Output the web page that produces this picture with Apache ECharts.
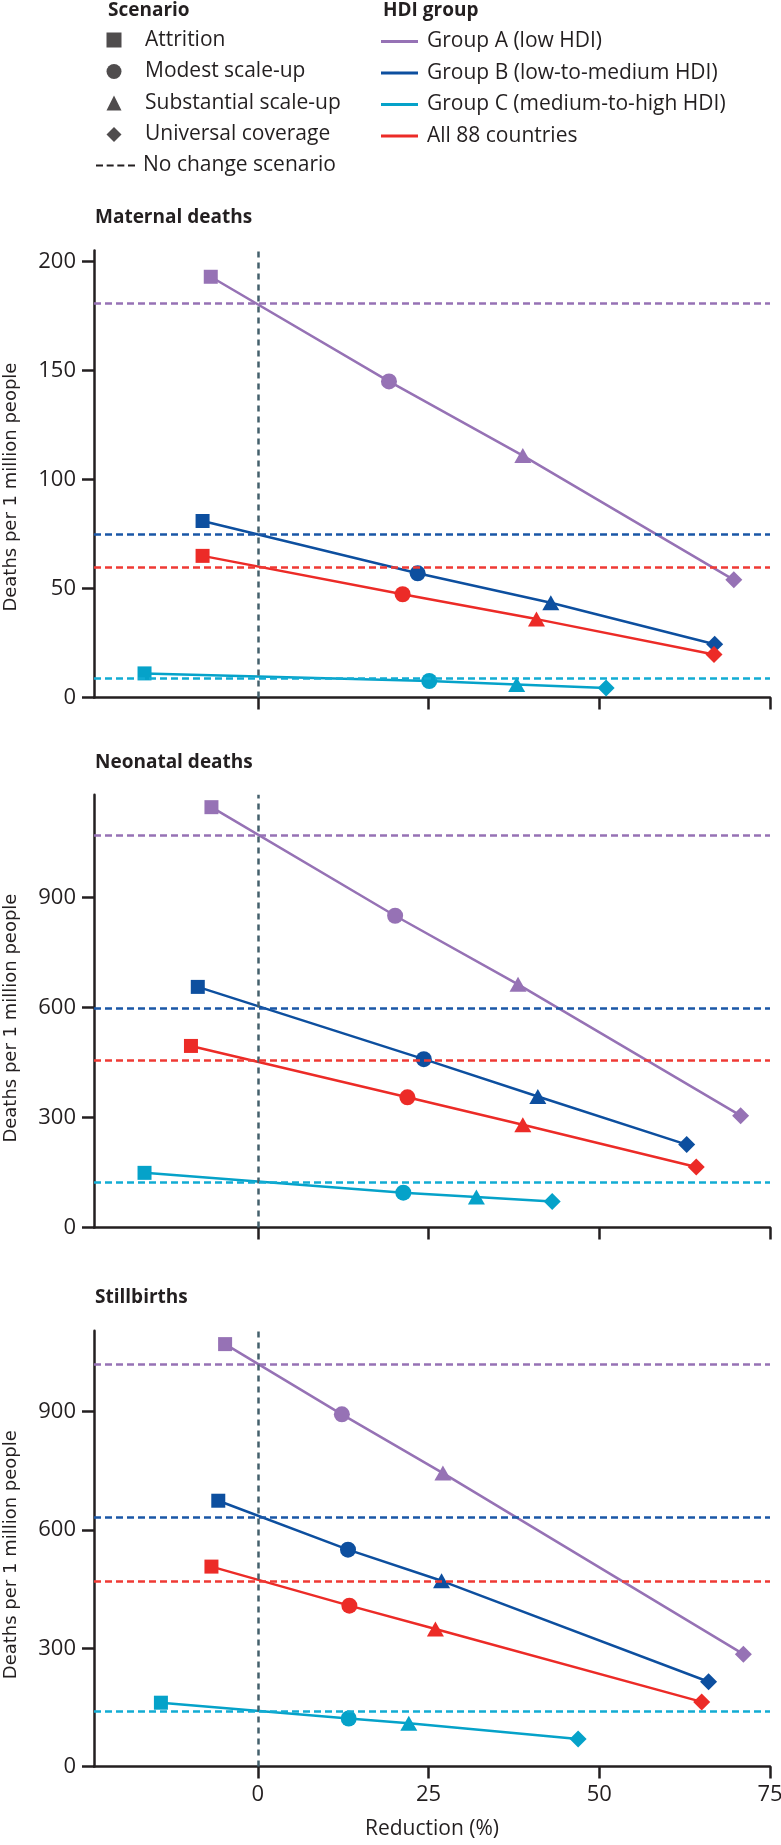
<!DOCTYPE html>
<html>
<head>
<meta charset="utf-8">
<title>Deaths per 1 million people by scenario and HDI group</title>
<script src="https://cdn.jsdelivr.net/npm/echarts@6.0.0/dist/echarts.min.js"></script>
<style>
  html, body { margin: 0; padding: 0; background: #fff; }
  #chart { width: 781px; height: 1845px; }
</style>
</head>
<body>
<div id="chart"></div>
<script>
// categories
const groupNames = ['Group A (low HDI)', 'Group B (low-to-medium HDI)', 'Group C (medium-to-high HDI)', 'All 88 countries']
const scenarioNames = ['Attrition', 'Modest scale-up', 'Substantial scale-up', 'Universal coverage']
const noChangeName = 'No change scenario'
const panelTitles = ['Maternal deaths', 'Neonatal deaths', 'Stillbirths']

// tick labels
const xTicks = [0, 25, 50, 75]
const maternalTicks = [0, 50, 100, 150, 200]
const neonatalTicks = [0, 300, 600, 900]
const stillbirthTicks = [0, 300, 600, 900]

// maternal deaths: reduction (%) and deaths per 1 million, one row per group, one value per scenario
const maternalReduction = [
  [-6.9, 19.2, 38.8, 69.7],
  [-8.1, 23.4, 42.9, 66.9],
  [-16.6, 25.1, 37.9, 51.0],
  [-8.1, 21.2, 40.8, 66.8]
]
const maternalRate = [
  [193, 145, 111, 54],
  [81, 57, 43.5, 24.5],
  [11.1, 7.6, 6.0, 4.4],
  [65, 47.4, 36, 19.8]
]
const maternalNoChange = [181, 75, 8.8, 60]

// neonatal deaths
const neonatalReduction = [
  [-6.8, 20.1, 38.1, 70.7],
  [-8.8, 24.3, 41.0, 62.8],
  [-16.6, 21.3, 32.0, 43.1],
  [-9.8, 21.9, 38.8, 64.2]
]
const neonatalRate = [
  [1146, 850, 663, 305],
  [656, 459, 357, 226],
  [149, 95, 83, 71],
  [495, 355, 280, 165]
]
const neonatalNoChange = [1069, 599, 124, 455]

// stillbirths
const stillbirthReduction = [
  [-4.8, 12.3, 27.1, 71.1],
  [-5.8, 13.2, 26.9, 66.0],
  [-14.2, 13.3, 22.1, 46.9],
  [-6.8, 13.4, 26.0, 65.0]
]
const stillbirthRate = [
  [1071, 893, 744, 285],
  [674, 550, 471, 215],
  [162, 122, 110, 70],
  [507, 408, 349, 164]
]
const stillbirthNoChange = [1020, 633, 141, 471]

const ink = '#231f20'
const font = 'Open Sans'
const groupColors = ['#9672b5', '#0d4f9f', '#05a2c9', '#ec2b27']
const dashColors = ['#9672b5', '#1a57a6', '#12acd3', '#ef3a34']
const zeroLineColor = '#44606c'
const scenarioSymbols = ['rect', 'circle', 'triangle', 'diamond']
const scenarioSizes = [14, 16, [17, 15], 17]

const panels = [
  { title: panelTitles[0], reduction: maternalReduction, rate: maternalRate, noChange: maternalNoChange, ticks: maternalTicks, max: 205, top: 250.6, height: 447, namePad: 26 },
  { title: panelTitles[1], reduction: neonatalReduction, rate: neonatalRate, noChange: neonatalNoChange, ticks: neonatalTicks, max: 1180, top: 794.7, height: 432.8, namePad: 14 },
  { title: panelTitles[2], reduction: stillbirthReduction, rate: stillbirthRate, noChange: stillbirthNoChange, ticks: stillbirthTicks, max: 1105, top: 1330.7, height: 435.9, namePad: 12 }
]

const chart = echarts.init(document.getElementById('chart'))

const axisLineStyle = { color: ink, width: 2.5 }
const titleStyle = { fontFamily: font, fontWeight: 'bold', fontSize: 19, color: ink }

const grid = panels.map(p => ({ left: 94, right: 11, top: p.top, height: p.height, outerBoundsMode: 'none' }))

const xAxis = panels.map((p, i) => ({
  type: 'value',
  gridIndex: i,
  min: -24,
  max: 75,
  axisLine: { show: true, onZero: false, lineStyle: axisLineStyle },
  axisTick: { show: true, length: 12, customValues: xTicks, lineStyle: axisLineStyle },
  axisLabel: { show: i === 2, customValues: xTicks, margin: 17, fontFamily: font, fontSize: 22, color: ink },
  splitLine: { show: false },
  name: i === 2 ? 'Reduction (%)' : '',
  nameLocation: 'middle',
  nameGap: 52,
  nameMoveOverlap: false,
  nameTextStyle: { fontFamily: font, fontSize: 21, color: ink }
}))

const yAxis = panels.map((p, i) => ({
  type: 'value',
  gridIndex: i,
  min: 0,
  max: p.max,
  axisLine: { show: true, onZero: false, lineStyle: axisLineStyle },
  axisTick: { show: true, length: 12, customValues: p.ticks, lineStyle: axisLineStyle },
  axisLabel: { customValues: p.ticks, margin: 18, fontFamily: font, fontSize: 22, color: ink },
  splitLine: { show: false },
  name: 'Deaths per 1 million people',
  nameLocation: 'middle',
  nameRotate: 90,
  nameGap: 74,
  nameMoveOverlap: false,
  nameTextStyle: { fontFamily: 'DejaVu Sans', fontSize: 18, color: ink, padding: [0, p.namePad, 0, 0] }
}))

const series = []

// legend-only entries for the scenario shapes and the no-change line
scenarioNames.forEach(name => {
  series.push({ type: 'scatter', name: name, xAxisIndex: 0, yAxisIndex: 0, data: [], itemStyle: { color: ink } })
})
series.push({ type: 'line', name: noChangeName, xAxisIndex: 0, yAxisIndex: 0, data: [], lineStyle: { color: ink, type: 'dashed' }, itemStyle: { color: ink } })

panels.forEach((p, pi) => {
  groupNames.forEach((g, gi) => {
    const marks = [{ yAxis: p.noChange[gi] }]
    if (gi === 0) {
      marks.push({ xAxis: 0, lineStyle: { color: zeroLineColor, type: [6, 5], width: 2.5 } })
    }
    series.push({
      type: 'line',
      name: g,
      xAxisIndex: pi,
      yAxisIndex: pi,
      data: p.reduction[gi].map((x, k) => ({
        value: [x, p.rate[gi][k]],
        symbol: scenarioSymbols[k],
        symbolSize: scenarioSizes[k]
      })),
      showSymbol: true,
      lineStyle: { color: groupColors[gi], width: 2.5 },
      itemStyle: { color: groupColors[gi], borderWidth: 0 },
      markLine: {
        silent: true,
        symbol: 'none',
        label: { show: false },
        lineStyle: { color: dashColors[gi], type: [7, 4], width: 2.5 },
        data: marks
      }
    })
  })
})

const dashIcon = 'path://M0,0h7v2h-7z M10.67,0h7v2h-7z M21.33,0h7v2h-7z M32,0h7v2h-7z'

chart.setOption({
  backgroundColor: '#fff',
  animation: false,
  title: [
    { text: 'Scenario', left: 108, top: 1.5, padding: 0, textStyle: titleStyle },
    { text: 'HDI group', left: 383, top: 1.5, padding: 0, textStyle: titleStyle },
    { text: panels[0].title, left: 95, top: 208.5, padding: 0, textStyle: titleStyle },
    { text: panels[1].title, left: 95, top: 753.5, padding: 0, textStyle: titleStyle },
    { text: panels[2].title, left: 95, top: 1288.5, padding: 0, textStyle: titleStyle }
  ],
  legend: [
    {
      orient: 'vertical',
      left: 106.5,
      top: 29.5,
      padding: 0,
      itemWidth: 15,
      itemHeight: 15,
      itemGap: 10.5,
      selectedMode: false,
      itemStyle: { borderWidth: 0 },
      textStyle: { fontFamily: font, fontSize: 21, color: ink, padding: [0, 0, 0, 18.5] },
      data: scenarioNames.map((n, k) => ({ name: n, icon: scenarioSymbols[k], itemStyle: { color: ink } }))
    },
    {
      orient: 'vertical',
      left: 381,
      top: 31,
      padding: 0,
      itemWidth: 37,
      itemHeight: 3,
      itemGap: 10.5,
      selectedMode: false,
      itemStyle: { borderWidth: 0 },
      textStyle: { fontFamily: font, fontSize: 21, color: ink, padding: [0, 0, 0, 4] },
      data: groupNames.map((n, k) => ({ name: n, icon: 'rect', itemStyle: { color: groupColors[k] } }))
    },
    {
      left: 96,
      top: 155,
      padding: 0,
      itemWidth: 39,
      itemHeight: 2,
      selectedMode: false,
      itemStyle: { borderWidth: 0 },
      textStyle: { fontFamily: font, fontSize: 21, color: ink, padding: [0, 0, 0, 3] },
      data: [{ name: noChangeName, icon: dashIcon, itemStyle: { color: ink } }]
    }
  ],
  grid: grid,
  xAxis: xAxis,
  yAxis: yAxis,
  series: series
})
</script>
</body>
</html>
